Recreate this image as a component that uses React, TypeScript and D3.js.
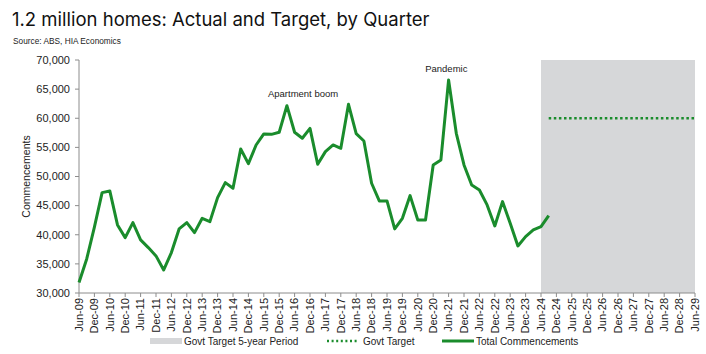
import React from "react";
import * as d3 from "d3";

const tickLabels = [
  "Jun-09","Dec-09","Jun-10","Dec-10","Jun-11","Dec-11","Jun-12","Dec-12","Jun-13","Dec-13",
  "Jun-14","Dec-14","Jun-15","Dec-15","Jun-16","Dec-16","Jun-17","Dec-17","Jun-18","Dec-18",
  "Jun-19","Dec-19","Jun-20","Dec-20","Jun-21","Dec-21","Jun-22","Dec-22","Jun-23","Dec-23",
  "Jun-24","Dec-24","Jun-25","Dec-25","Jun-26","Dec-26","Jun-27","Dec-27","Jun-28","Dec-28","Jun-29",
];

// Quarterly commencements, Jun-09 (index 0) to Sep-24 (index 61)
const commencements = [
  31800, 35850, 41300, 47230, 47520, 41690, 39510, 42090, 39110, 37800,
  36370, 33960, 36940, 41000, 42090, 40370, 42830, 42260, 46380, 48950,
  47980, 54730, 52210, 55410, 57300, 57240, 57590, 62160, 57590, 56560,
  58270, 52100, 54270, 55410, 54840, 62390, 57350, 56100, 48840, 45800,
  45800, 41000, 42830, 46720, 42540, 42540, 51980, 52840, 66570, 57420,
  51980, 48550, 47690, 45120, 41510, 45690, 41970, 38080, 39680, 40830,
  41400, 43290,
];

// Govt target: 60,000 per quarter, Sep-24 (index 61) to Jun-29 (index 80)
const targetStart = 61;
const targetEnd = 80;
const targetValue = 60000;

// Shaded 5-year period: Jun-24 (index 60) to Jun-29 (index 80)
const periodStart = 60;
const periodEnd = 80;

const yTicks = [30000, 35000, 40000, 45000, 50000, 55000, 60000, 65000, 70000];

const annotations = [
  { text: "Apartment boom", index: 29.1, value: 63650 },
  { text: "Pandemic", index: 47.7, value: 67950 },
];

const GREEN = "#1a8c2c";
const AXIS = "#8c8c8c";
const GREY = "#d6d7d9";
const LABEL_FONT = "'Liberation Sans', Arial, sans-serif";

export default function App() {
  const W = 706, H = 354;
  const left = 79, right = 695, top = 60, bottom = 293;
  const x = d3.scaleLinear().domain([0, 80]).range([left, right]);
  const y = d3.scaleLinear().domain([30000, 70000]).range([bottom, top]);
  const fmt = d3.format(",");

  const line = d3.line<number>().x((_, i) => x(i)).y((d) => y(d));
  const targetIdx = d3.range(targetStart, targetEnd + 1);

  return (
    <svg width={W} height={H} style={{ position: "absolute", left: 0, top: 0, background: "#fff" }}>
      <text x={12} y={26} fontFamily="Inter, 'Open Sans', sans-serif" fontSize={18.5} fill="#111">
        1.2 million homes: Actual and Target, by Quarter
      </text>
      <text x={13} y={44} fontFamily={LABEL_FONT} fontSize={8.3} fill="#222">
        Source: ABS, HIA Economics
      </text>

      {/* shaded period */}
      <rect x={x(periodStart)} y={top} width={x(periodEnd) - x(periodStart)} height={bottom - top} fill={GREY} />

      {/* axes */}
      <line x1={left} x2={left} y1={top} y2={bottom} stroke={AXIS} strokeWidth={1} />
      <line x1={left} x2={right} y1={bottom} y2={bottom} stroke={AXIS} strokeWidth={1} />
      {yTicks.map((t) => (
        <g key={t}>
          <line x1={left - 4} x2={left} y1={y(t)} y2={y(t)} stroke={AXIS} />
          <text x={left - 9} y={y(t)} dy="0.35em" textAnchor="end" fontFamily={LABEL_FONT} fontSize={11} fill="#222">
            {fmt(t)}
          </text>
        </g>
      ))}
      {tickLabels.map((lab, i) => {
        const xi = x(i * 2);
        return (
          <g key={lab}>
            <line x1={xi} x2={xi} y1={bottom} y2={bottom + 4} stroke={AXIS} />
            <text
              transform={`translate(${xi},${bottom + 5}) rotate(-90)`}
              dy="0.35em"
              textAnchor="end"
              fontFamily={LABEL_FONT}
              fontSize={11}
              fill="#222"
            >
              {lab}
            </text>
          </g>
        );
      })}
      <text
        transform={`translate(30,${(top + bottom) / 2}) rotate(-90)`}
        textAnchor="middle"
        fontFamily={LABEL_FONT}
        fontSize={10.5}
        fill="#222"
      >
        Commencements
      </text>

      {/* target line */}
      <path
        d={d3.line<number>().x((i) => x(i)).y(() => y(targetValue))(targetIdx) || ""}
        fill="none"
        stroke={GREEN}
        strokeWidth={2.5}
        strokeDasharray="2.5 2.6"
      />

      {/* actual */}
      <path d={line(commencements) || ""} fill="none" stroke={GREEN} strokeWidth={3} strokeLinejoin="round" />

      {annotations.map((a) => (
        <text key={a.text} x={x(a.index)} y={y(a.value)} textAnchor="middle" fontFamily={LABEL_FONT} fontSize={9.5} fill="#222">
          {a.text}
        </text>
      ))}

      {/* legend */}
      <g fontFamily={LABEL_FONT} fontSize={10} fill="#222">
        <rect x={150} y={338} width={32} height={6} fill={GREY} />
        <text x={184} y={345}>Govt Target 5-year Period</text>
        <line x1={327} x2={358} y1={341} y2={341} stroke={GREEN} strokeWidth={2.5} strokeDasharray="2 2.6" />
        <text x={363} y={345}>Govt Target</text>
        <line x1={442} x2={474} y1={341} y2={341} stroke={GREEN} strokeWidth={3} />
        <text x={476} y={345}>Total Commencements</text>
      </g>
    </svg>
  );
}
